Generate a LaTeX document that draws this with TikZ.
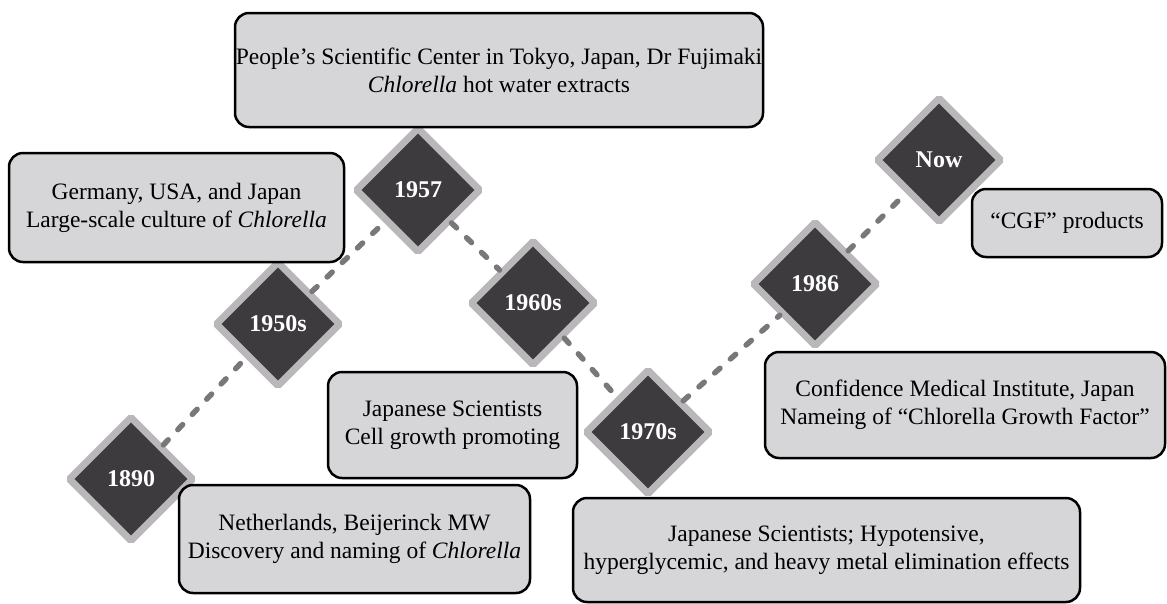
\documentclass[tikz,border=0pt]{standalone}
\usepackage{fontspec}
\setmainfont{Liberation Serif}
\usetikzlibrary{shapes.geometric}

\definecolor{boxgray}{HTML}{D6D5D8}
\definecolor{yeardark}{HTML}{3D3B3E}
\definecolor{yearrim}{HTML}{B9B7BA}
\definecolor{linkgray}{HTML}{79777A}

\begin{document}
\begin{tikzpicture}[x=1pt,y=-1pt,
  evbox/.style={draw=black,line width=2.5pt,rounded corners=14pt,fill=boxgray,
    align=center,inner sep=0pt,font=\fontsize{23.5}{28}\selectfont},
  yearnode/.style={diamond,draw=yearrim,line width=7pt,fill=yeardark,rounded corners=1.5pt,
    minimum width=126pt,minimum height=126pt,inner sep=0pt,text=white,
    font=\fontsize{24}{26}\selectfont\bfseries},
  dashlink/.style={draw=linkgray,line width=5.5pt,line cap=round,dash pattern=on 7pt off 14pt}]
\useasboundingbox (0,0) rectangle (1167,603);
% year diamonds
\node[yearnode] (y1890) at (131,479) {1890};
\node[yearnode] (y1950) at (278,324) {1950s};
\node[yearnode] (y1957) at (418,190) {1957};
\node[yearnode] (y1960) at (533,303) {1960s};
\node[yearnode] (y1970) at (648,432) {1970s};
\node[yearnode] (y1986) at (815,284) {1986};
\node[yearnode] (ynow) at (939,160) {Now};
% dashed timeline
\foreach \a/\b in {y1890/y1950,y1950/y1957,y1957/y1960,y1960/y1970,y1970/y1986,y1986/ynow}
  {\draw[dashlink] (\a) -- (\b);}
% event boxes
\node[evbox,minimum width=528pt,minimum height=114pt] (p1957) at (499,70)
  {People's Scientific Center in Tokyo, Japan, Dr Fujimaki\\\textit{Chlorella} hot water extracts};
\node[evbox,minimum width=335pt,minimum height=109pt] (p1950) at (176.5,207.5)
  {Germany, USA, and Japan\\Large-scale culture of \textit{Chlorella}};
\node[evbox,minimum width=190pt,minimum height=68pt] (pnow) at (1067,223)
  {“CGF” products};
\node[evbox,minimum width=249pt,minimum height=106pt] (p1960) at (452.5,425)
  {Japanese Scientists\\Cell growth promoting};
\node[evbox,minimum width=351pt,minimum height=108pt] (p1890) at (354.5,539)
  {Netherlands, Beijerinck MW\\Discovery and naming of \textit{Chlorella}};
\node[evbox,minimum width=400pt,minimum height=106pt] (p1986) at (965,405)
  {Confidence Medical Institute, Japan\\Nameing of “Chlorella Growth Factor”};
\node[evbox,minimum width=507pt,minimum height=104pt] (p1970) at (826.5,550)
  {Japanese Scientists; Hypotensive,\\hyperglycemic, and heavy metal elimination effects};
\end{tikzpicture}
\end{document}
